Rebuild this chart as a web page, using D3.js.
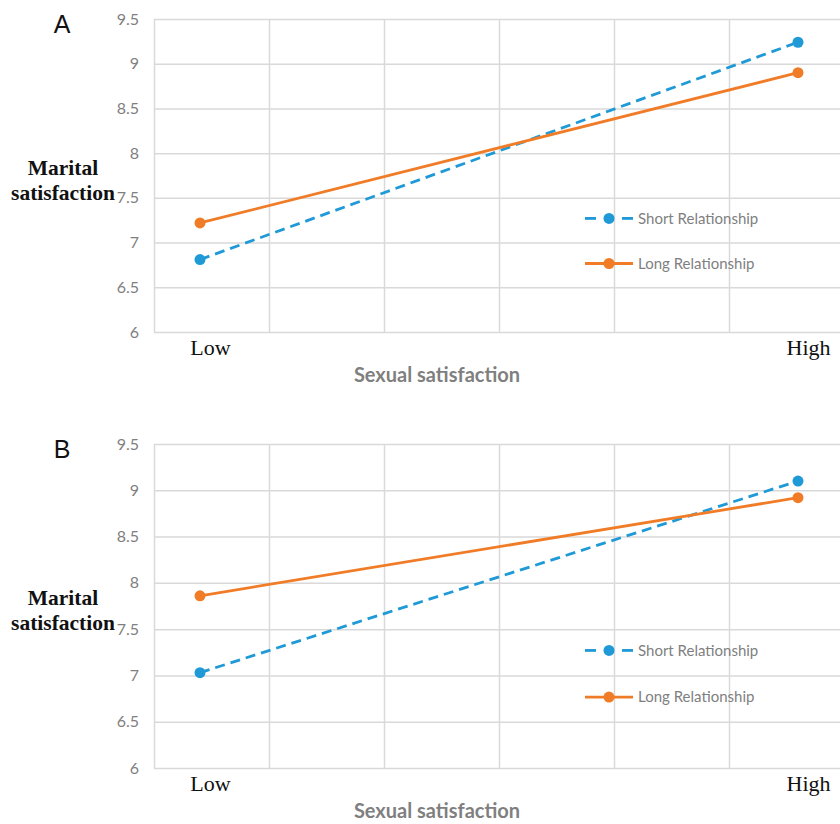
<!DOCTYPE html>
<html>
<head>
<meta charset="utf-8">
<script src="https://cdn.jsdelivr.net/npm/d3@7"></script>
<style>
  body { margin: 0; background: #fff; }
  svg { display: block; }
</style>
</head>
<body>
<svg id="chart" width="840" height="824"></svg>
<script>
// chart values
var categories = ["Low", "High"];
var yTicks = [6, 6.5, 7, 7.5, 8, 8.5, 9, 9.5];
var seriesNames = ["Short Relationship", "Long Relationship"];
var panelNames = ["A", "B"];

var shortA = [6.81, 9.24];
var longA = [7.22, 8.90];
var shortB = [7.03, 9.10];
var longB = [7.86, 8.92];

var svg = d3.select("#chart");
var width = +svg.attr("width");

var blue = "#1f9ad7";
var orange = "#f07c27";
var gridColor = "#d9d9d9";
var grayText = "#7f7f7f";

// shared horizontal layout: 6 grid columns, right edge runs off the page
var plotLeft = 154;
var colWidth = 115;
var gridX = d3.scaleLinear().domain([0, 6]).range([plotLeft, plotLeft + 6 * colWidth]);
var catX = d3.scalePoint().domain(categories).range([gridX(0.4), gridX(5.6)]);

var panels = [
  { name: panelNames[0], short: shortA, long: longA, top: 19, bottom: 332 },
  { name: panelNames[1], short: shortB, long: longB, top: 444, bottom: 768 }
];

panels.forEach(function (p) {
  var g = svg.append("g");
  var y = d3.scaleLinear().domain([6, 9.5]).range([p.bottom, p.top]);

  // horizontal gridlines + tick labels
  var leftAxis = d3.axisLeft(y)
    .tickValues(yTicks)
    .tickFormat(d3.format("~g"))
    .tickSize(-(width - plotLeft))
    .tickPadding(15);
  var ya = g.append("g")
    .attr("transform", "translate(" + plotLeft + ",0)")
    .call(leftAxis);
  ya.select(".domain").remove();
  ya.selectAll("line").attr("stroke", gridColor).attr("stroke-width", 1.5);
  ya.selectAll("text")
    .attr("fill", grayText)
    .style("font-family", "Lato, 'Open Sans', sans-serif")
    .style("font-size", "16px");

  // vertical gridlines
  var vAxis = d3.axisBottom(gridX)
    .tickValues(d3.range(0, 7))
    .tickFormat("")
    .tickSize(-(p.bottom - p.top));
  var va = g.append("g")
    .attr("transform", "translate(0," + p.bottom + ")")
    .call(vAxis);
  va.select(".domain").remove();
  va.selectAll("line").attr("stroke", gridColor).attr("stroke-width", 1.5);

  // category labels (text boxes sit a little right of the points)
  var catAxis = d3.axisBottom(catX).tickSize(0).tickPadding(7);
  var ca = g.append("g")
    .attr("transform", "translate(10," + p.bottom + ")")
    .call(catAxis);
  ca.select(".domain").remove();
  ca.selectAll("text")
    .attr("fill", "#111")
    .style("font-family", "'Liberation Serif', 'Times New Roman', serif")
    .style("font-size", "22px");

  // x-axis title
  g.append("text")
    .attr("x", 437)
    .attr("y", p.bottom + 50)
    .attr("text-anchor", "middle")
    .attr("fill", grayText)
    .style("font-family", "Lato, 'Open Sans', sans-serif")
    .style("font-weight", "bold")
    .style("font-size", "20px")
    .text("Sexual satisfaction");

  // y-axis title, two lines
  var yt = g.append("text")
    .attr("text-anchor", "middle")
    .attr("fill", "#111")
    .style("font-family", "'Liberation Serif', 'Times New Roman', serif")
    .style("font-weight", "bold")
    .style("font-size", "21.5px");
  var midY = y(7.75);
  yt.append("tspan").attr("x", 63).attr("y", midY - 1).text("Marital");
  yt.append("tspan").attr("x", 63).attr("y", midY + 24).text("satisfaction");

  // panel letter
  g.append("text")
    .attr("x", 62)
    .attr("y", p.top + 14)
    .attr("text-anchor", "middle")
    .attr("fill", "#111")
    .style("font-family", "'Liberation Sans', Arial, sans-serif")
    .style("font-size", "25px")
    .text(p.name);

  // series
  var line = d3.line()
    .x(function (d, i) { return catX(categories[i]); })
    .y(function (d) { return y(d); });

  var series = [
    { name: seriesNames[0], values: p.short, color: blue, dash: "10,6" },
    { name: seriesNames[1], values: p.long, color: orange, dash: null }
  ];

  series.forEach(function (s) {
    g.append("path")
      .datum(s.values)
      .attr("d", line)
      .attr("fill", "none")
      .attr("stroke", s.color)
      .attr("stroke-width", 2.8)
      .attr("stroke-dasharray", s.dash);
    g.selectAll(null)
      .data(s.values)
      .enter()
      .append("circle")
      .attr("cx", function (d, i) { return catX(categories[i]); })
      .attr("cy", function (d) { return y(d); })
      .attr("r", 5.5)
      .attr("fill", s.color);
  });

  // legend
  var legTop = y(7.27);
  var legGap = (p.bottom - p.top) * 0.144;
  series.forEach(function (s, i) {
    var ly = legTop + i * legGap;
    if (s.dash) {
      g.append("line").attr("x1", 585).attr("x2", 596).attr("y1", ly).attr("y2", ly)
        .attr("stroke", s.color).attr("stroke-width", 2.8);
      g.append("line").attr("x1", 622).attr("x2", 633).attr("y1", ly).attr("y2", ly)
        .attr("stroke", s.color).attr("stroke-width", 2.8);
    } else {
      g.append("line").attr("x1", 585).attr("x2", 633).attr("y1", ly).attr("y2", ly)
        .attr("stroke", s.color).attr("stroke-width", 2.8);
    }
    g.append("circle").attr("cx", 609).attr("cy", ly).attr("r", 5.5).attr("fill", s.color);
    g.append("text")
      .attr("x", 638)
      .attr("y", ly)
      .attr("dy", "0.35em")
      .attr("fill", grayText)
      .style("font-family", "Lato, 'Open Sans', sans-serif")
      .style("font-size", "15px")
      .text(s.name);
  });
});
</script>
</body>
</html>
